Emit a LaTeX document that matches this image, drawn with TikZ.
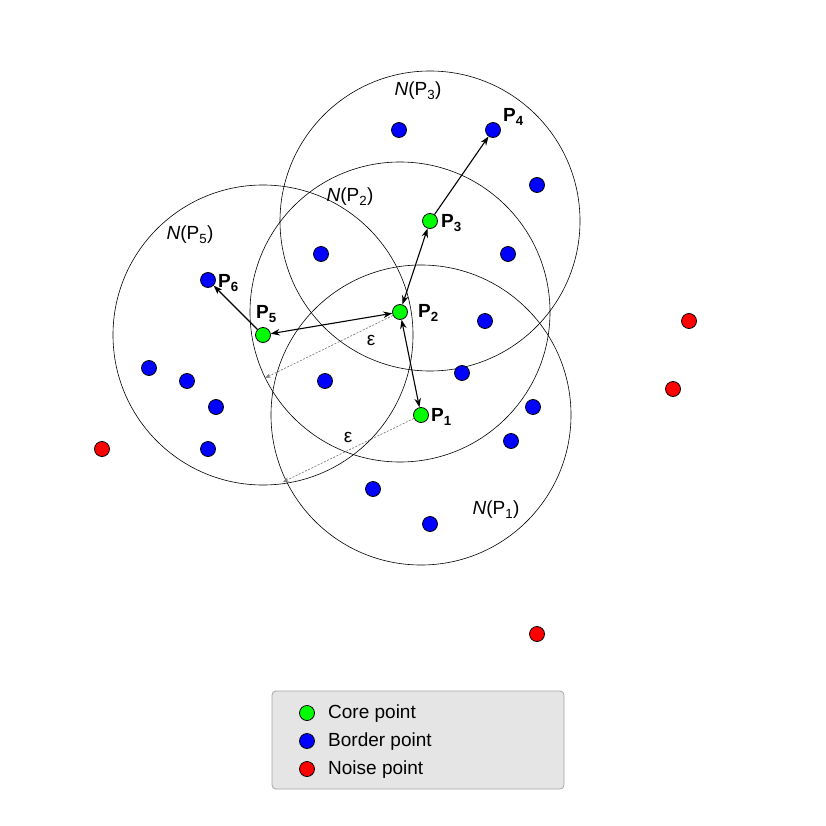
\documentclass[tikz,border=0pt]{standalone}
\usepackage{fontspec}
\setmainfont{Liberation Sans}
\usetikzlibrary{arrows.meta}
\newcommand\psub[1]{\textsubscript{#1}}
\begin{document}
\begin{tikzpicture}[x=1pt,y=-1pt,
  pt/.style={circle,draw=black,line width=0.8pt,minimum size=15pt,inner sep=0pt},
  core/.style={pt,fill=green},
  border/.style={pt,fill=blue},
  noise/.style={pt,fill=red},
  nbhd/.style={draw=black,line width=0.6pt},
  plab/.style={anchor=west,inner sep=0pt,font=\fontsize{19}{21}\selectfont\bfseries},
  nlab/.style={inner sep=0pt,font=\fontsize{19}{22}\selectfont},
  arr/.style={line width=1.1pt,-{Stealth[length=9pt,width=6.5pt]}},
  darr/.style={line width=1.1pt,{Stealth[length=9pt,width=6.5pt]}-{Stealth[length=9pt,width=6.5pt]}},
  eps/.style={draw=gray,line width=0.7pt,dash pattern=on 2pt off 1.5pt,-{Stealth[length=6pt,width=4.5pt]}},
  legtext/.style={anchor=west,inner sep=0pt,font=\fontsize{19}{22}\selectfont}
]
\useasboundingbox (0,0) rectangle (826,826);
\fill[white] (0,0) rectangle (826,826);

% neighbourhood circles
\draw[nbhd] (430,221) circle[radius=150];
\draw[nbhd] (400,312) circle[radius=150];
\draw[nbhd] (263,335) circle[radius=150];
\draw[nbhd] (421,415) circle[radius=150];

% core points
\node[core] (p1) at (421,415) {};
\node[core] (p2) at (400,312) {};
\node[core] (p3) at (430,221) {};
\node[core] (p5) at (263,335) {};

% border points
\node[border] (b1) at (399,130) {};
\node[border] (p4) at (493,130) {};
\node[border] (b2) at (537,185) {};
\node[border] (b3) at (321,254) {};
\node[border] (b4) at (508,254) {};
\node[border] (b5) at (485,321) {};
\node[border] (b6) at (462,373) {};
\node[border] (b7) at (533,407) {};
\node[border] (b8) at (511,441) {};
\node[border] (b9) at (325,381) {};
\node[border] (b10) at (373,489) {};
\node[border] (b11) at (430,524) {};
\node[border] (p6) at (208,280) {};
\node[border] (b12) at (149,368) {};
\node[border] (b13) at (187,381) {};
\node[border] (b14) at (216,407) {};
\node[border] (b15) at (208,449) {};

% noise points
\node[noise] (n1) at (689,321) {};
\node[noise] (n2) at (673,389) {};
\node[noise] (n3) at (102,449) {};
\node[noise] (n4) at (537,634) {};

% point labels
\node[plab] (l1) at (431,417) {P\psub{1}};
\node[plab] (l2) at (418,313) {P\psub{2}};
\node[plab] (l3) at (441,223) {P\psub{3}};
\node[plab] (l4) at (503,117) {P\psub{4}};
\node[plab] (l5) at (256,314) {P\psub{5}};
\node[plab] (l6) at (218,283) {P\psub{6}};

% neighbourhood labels
\node[nlab] (np3) at (418,91) {\textit{N}(P\psub{3})};
\node[nlab] (np2) at (350,197) {\textit{N}(P\psub{2})};
\node[nlab] (np5) at (190,235) {\textit{N}(P\psub{5})};
\node[nlab] (np1) at (496,510) {\textit{N}(P\psub{1})};

% arrows
\draw[arr] (p3) -- (p4);
\draw[darr] (p2) -- (p3);
\draw[darr] (p5) -- (p2);
\draw[darr] (p2) -- (p1);
\draw[arr] (p5) -- (p6);

% epsilon radii
\coordinate (e2) at (265,378);
\coordinate (e1) at (283,482);
\draw[eps] (p2) -- (e2);
\draw[eps] (p1) -- (e1);
\node[nlab] (eps2) at (371,340) {ε};
\node[nlab] (eps1) at (348,437) {ε};

% legend
\node[draw=gray!70,fill=gray!20,rounded corners=4pt,line width=0.8pt,
  minimum width=292pt,minimum height=98pt,inner sep=0pt] (legend) at (418,740) {};
\node[core] (lc) at (307,713) {};
\node[border] (lb) at (307,741) {};
\node[noise] (ln) at (307,769) {};
\node[legtext] (tc) at (328,714) {Core point};
\node[legtext] (tb) at (328,742) {Border point};
\node[legtext] (tn) at (328,770) {Noise point};
\end{tikzpicture}
\end{document}
